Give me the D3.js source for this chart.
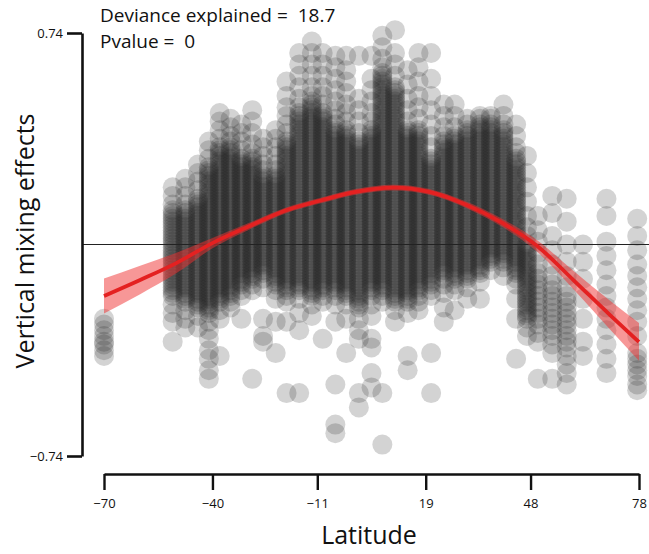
<!DOCTYPE html>
<html><head><meta charset="utf-8">
<script src="https://cdn.jsdelivr.net/npm/d3@7"></script>
<style>body{margin:0;background:#fff}svg{display:block}text{font-family:"Open Sans",sans-serif;fill:#111;white-space:pre}</style>
</head><body><svg id="chart" width="649" height="554"></svg>
<script>
// Latitude of each column of observations
const latitudes = [-70,-51,-47.5,-44,-41,-38,-35,-32,-29,-26,-22.5,-19.5,-16,-12.5,-9.5,-6,-3,0.5,4,7,10.5,14,17,20.5,24,27,30.5,34,37,40.5,44,47,50,54,58,62.5,69,77.5];
// Vertical mixing effects observed in each latitude column
const mixingEffects = [
 [-.26,-.28,-.30,-.32,-.34,-.35,-.37,-.39],
 [.20,.17,.14,.12,.11,.10,.09,.08,.07,.06,.05,.04,.03,.02,.01,0,-.01,-.02,-.03,-.04,-.05,-.06,-.07,-.08,-.09,-.10,-.11,-.12,-.13,-.14,-.15,-.16,-.17,-.18,-.21,-.24,-.27,-.34],
 [.23,.20,.17,.14,.12,.11,.10,.09,.08,.07,.06,.05,.04,.03,.02,.01,0,-.01,-.02,-.03,-.04,-.05,-.06,-.07,-.08,-.09,-.10,-.11,-.12,-.13,-.14,-.15,-.16,-.17,-.18,-.19,-.20,-.23,-.26,-.29],
 [.28,.25,.22,.19,.16,.15,.14,.13,.12,.11,.10,.09,.08,.07,.06,.05,.04,.03,.02,.01,0,-.01,-.02,-.03,-.04,-.05,-.06,-.07,-.08,-.09,-.10,-.11,-.12,-.13,-.14,-.15,-.16,-.17,-.18,-.19,-.20,-.21,-.22,-.25,-.29],
 [.36,.33,.30,.27,.26,.25,.24,.23,.22,.21,.20,.19,.18,.17,.16,.15,.14,.13,.12,.11,.10,.09,.08,.07,.06,.05,.04,.03,.02,.01,0,-.01,-.02,-.03,-.04,-.05,-.06,-.07,-.08,-.09,-.10,-.11,-.12,-.13,-.14,-.15,-.16,-.17,-.18,-.19,-.20,-.21,-.22,-.23,-.24,-.27,-.30,-.33,-.37,-.40,-.44,-.47],
 [.46,.43,.40,.37,.34,.33,.32,.31,.30,.29,.28,.27,.26,.25,.24,.23,.22,.21,.20,.19,.18,.17,.16,.15,.14,.13,.12,.11,.10,.09,.08,.07,.06,.05,.04,.03,.02,.01,0,-.01,-.02,-.03,-.04,-.05,-.06,-.07,-.08,-.09,-.10,-.11,-.12,-.13,-.14,-.15,-.16,-.17,-.18,-.19,-.20,-.23,-.26,-.39],
 [.44,.41,.38,.36,.34,.33,.32,.31,.30,.29,.28,.27,.26,.25,.24,.23,.22,.21,.20,.19,.18,.17,.16,.15,.14,.13,.12,.11,.10,.09,.08,.07,.06,.05,.04,.03,.02,.01,0,-.01,-.02,-.03,-.04,-.05,-.06,-.07,-.08,-.09,-.10,-.11,-.12,-.13,-.14,-.15,-.16,-.17,-.18,-.20,-.22],
 [.42,.39,.36,.33,.30,.29,.28,.27,.26,.25,.24,.23,.22,.21,.20,.19,.18,.17,.16,.15,.14,.13,.12,.11,.10,.09,.08,.07,.06,.05,.04,.03,.02,.01,0,-.01,-.02,-.03,-.04,-.05,-.06,-.07,-.08,-.09,-.10,-.11,-.12,-.13,-.14,-.16,-.18,-.26],
 [.47,.43,.39,.35,.32,.30,.29,.28,.27,.26,.25,.24,.23,.22,.21,.20,.19,.18,.17,.16,.15,.14,.13,.12,.11,.10,.09,.08,.07,.06,.05,.04,.03,.02,.01,0,-.01,-.02,-.03,-.04,-.05,-.06,-.07,-.08,-.09,-.10,-.11,-.12,-.14,-.16,-.47],
 [.37,.34,.31,.28,.26,.24,.23,.22,.21,.20,.19,.18,.17,.16,.15,.14,.13,.12,.11,.10,.09,.08,.07,.06,.05,.04,.03,.02,.01,0,-.01,-.02,-.03,-.04,-.05,-.06,-.07,-.08,-.09,-.10,-.12,-.15,-.26,-.32,-.34],
 [.40,.37,.34,.31,.28,.26,.24,.23,.22,.21,.20,.19,.18,.17,.16,.15,.14,.13,.12,.11,.10,.09,.08,.07,.06,.05,.04,.03,.02,.01,0,-.01,-.02,-.03,-.04,-.05,-.06,-.07,-.08,-.09,-.10,-.11,-.12,-.13,-.14,-.16,-.19,-.27,-.38],
 [.57,.52,.48,.45,.42,.39,.36,.35,.34,.33,.32,.31,.30,.29,.28,.27,.26,.25,.24,.23,.22,.21,.20,.19,.18,.17,.16,.15,.14,.13,.12,.11,.10,.09,.08,.07,.06,.05,.04,.03,.02,.01,0,-.01,-.02,-.03,-.04,-.05,-.06,-.07,-.08,-.09,-.10,-.11,-.12,-.13,-.14,-.15,-.16,-.18,-.20,-.27,-.52],
 [.67,.63,.59,.55,.51,.48,.46,.45,.44,.43,.42,.41,.40,.39,.38,.37,.36,.35,.34,.33,.32,.31,.30,.29,.28,.27,.26,.25,.24,.23,.22,.21,.20,.19,.18,.17,.16,.15,.14,.13,.12,.11,.10,.09,.08,.07,.06,.05,.04,.03,.02,.01,0,-.01,-.02,-.03,-.04,-.05,-.06,-.07,-.08,-.09,-.10,-.11,-.12,-.13,-.14,-.15,-.16,-.19,-.24,-.30,-.52],
 [.71,.67,.63,.59,.55,.52,.50,.49,.48,.47,.46,.45,.44,.43,.42,.41,.40,.39,.38,.37,.36,.35,.34,.33,.32,.31,.30,.29,.28,.27,.26,.25,.24,.23,.22,.21,.20,.19,.18,.17,.16,.15,.14,.13,.12,.11,.10,.09,.08,.07,.06,.05,.04,.03,.02,.01,0,-.01,-.02,-.03,-.04,-.05,-.06,-.07,-.08,-.09,-.10,-.11,-.12,-.13,-.14,-.15,-.16,-.17,-.18,-.21,-.25],
 [.67,.63,.59,.55,.52,.49,.46,.45,.44,.43,.42,.41,.40,.39,.38,.37,.36,.35,.34,.33,.32,.31,.30,.29,.28,.27,.26,.25,.24,.23,.22,.21,.20,.19,.18,.17,.16,.15,.14,.13,.12,.11,.10,.09,.08,.07,.06,.05,.04,.03,.02,.01,0,-.01,-.02,-.03,-.04,-.05,-.06,-.07,-.08,-.09,-.10,-.11,-.12,-.13,-.14,-.15,-.16,-.18,-.20,-.33],
 [.66,.62,.58,.54,.50,.47,.44,.42,.40,.39,.38,.37,.36,.35,.34,.33,.32,.31,.30,.29,.28,.27,.26,.25,.24,.23,.22,.21,.20,.19,.18,.17,.16,.15,.14,.13,.12,.11,.10,.09,.08,.07,.06,.05,.04,.03,.02,.01,0,-.01,-.02,-.03,-.04,-.05,-.06,-.07,-.08,-.09,-.10,-.11,-.12,-.13,-.14,-.15,-.16,-.18,-.21,-.27,-.49,-.63,-.66],
 [.66,.61,.57,.53,.49,.46,.43,.40,.39,.38,.37,.36,.35,.34,.33,.32,.31,.30,.29,.28,.27,.26,.25,.24,.23,.22,.21,.20,.19,.18,.17,.16,.15,.14,.13,.12,.11,.10,.09,.08,.07,.06,.05,.04,.03,.02,.01,0,-.01,-.02,-.03,-.04,-.05,-.06,-.07,-.08,-.09,-.10,-.11,-.12,-.13,-.14,-.15,-.16,-.17,-.18,-.21,-.26,-.38],
 [.66,.51,.47,.43,.39,.36,.35,.34,.33,.32,.31,.30,.29,.28,.27,.26,.25,.24,.23,.22,.21,.20,.19,.18,.17,.16,.15,.14,.13,.12,.11,.10,.09,.08,.07,.06,.05,.04,.03,.02,.01,0,-.01,-.02,-.03,-.04,-.05,-.06,-.07,-.08,-.09,-.10,-.11,-.12,-.13,-.14,-.15,-.16,-.17,-.18,-.19,-.20,-.21,-.22,-.26,-.30,-.33,-.52,-.57],
 [.66,.58,.54,.50,.46,.43,.40,.39,.38,.37,.36,.35,.34,.33,.32,.31,.30,.29,.28,.27,.26,.25,.24,.23,.22,.21,.20,.19,.18,.17,.16,.15,.14,.13,.12,.11,.10,.09,.08,.07,.06,.05,.04,.03,.02,.01,0,-.01,-.02,-.03,-.04,-.05,-.06,-.07,-.08,-.09,-.10,-.11,-.12,-.13,-.14,-.15,-.16,-.18,-.21,-.25,-.33,-.36,-.45,-.50],
 [.73,.69,.65,.62,.60,.59,.58,.57,.56,.55,.54,.53,.52,.51,.50,.49,.48,.47,.46,.45,.44,.43,.42,.41,.40,.39,.38,.37,.36,.35,.34,.33,.32,.31,.30,.29,.28,.27,.26,.25,.24,.23,.22,.21,.20,.19,.18,.17,.16,.15,.14,.13,.12,.11,.10,.09,.08,.07,.06,.05,.04,.03,.02,.01,0,-.01,-.02,-.03,-.04,-.05,-.06,-.07,-.08,-.09,-.10,-.11,-.12,-.13,-.14,-.15,-.16,-.18,-.20,-.52,-.70],
 [.75,.67,.63,.59,.55,.54,.53,.52,.51,.50,.49,.48,.47,.46,.45,.44,.43,.42,.41,.40,.39,.38,.37,.36,.35,.34,.33,.32,.31,.30,.29,.28,.27,.26,.25,.24,.23,.22,.21,.20,.19,.18,.17,.16,.15,.14,.13,.12,.11,.10,.09,.08,.07,.06,.05,.04,.03,.02,.01,0,-.01,-.02,-.03,-.04,-.05,-.06,-.07,-.08,-.09,-.10,-.11,-.12,-.13,-.14,-.15,-.16,-.17,-.18,-.19,-.20,-.23,-.27],
 [.61,.56,.51,.47,.43,.40,.39,.38,.37,.36,.35,.34,.33,.32,.31,.30,.29,.28,.27,.26,.25,.24,.23,.22,.21,.20,.19,.18,.17,.16,.15,.14,.13,.12,.11,.10,.09,.08,.07,.06,.05,.04,.03,.02,.01,0,-.01,-.02,-.03,-.04,-.05,-.06,-.07,-.08,-.09,-.10,-.11,-.12,-.13,-.14,-.15,-.16,-.17,-.18,-.19,-.20,-.24,-.39,-.44],
 [.67,.62,.57,.52,.48,.44,.40,.39,.38,.37,.36,.35,.34,.33,.32,.31,.30,.29,.28,.27,.26,.25,.24,.23,.22,.21,.20,.19,.18,.17,.16,.15,.14,.13,.12,.11,.10,.09,.08,.07,.06,.05,.04,.03,.02,.01,0,-.01,-.02,-.03,-.04,-.05,-.06,-.07,-.08,-.09,-.10,-.11,-.12,-.13,-.14,-.15,-.16,-.18,-.20,-.23],
 [.67,.58,.52,.47,.42,.38,.34,.30,.29,.28,.27,.26,.25,.24,.23,.22,.21,.20,.19,.18,.17,.16,.15,.14,.13,.12,.11,.10,.09,.08,.07,.06,.05,.04,.03,.02,.01,0,-.01,-.02,-.03,-.04,-.05,-.06,-.07,-.08,-.09,-.10,-.11,-.12,-.13,-.14,-.16,-.18,-.38,-.52],
 [.49,.45,.41,.38,.36,.35,.34,.33,.32,.31,.30,.29,.28,.27,.26,.25,.24,.23,.22,.21,.20,.19,.18,.17,.16,.15,.14,.13,.12,.11,.10,.09,.08,.07,.06,.05,.04,.03,.02,.01,0,-.01,-.02,-.03,-.04,-.05,-.06,-.07,-.08,-.09,-.10,-.12,-.14,-.17,-.22,-.27],
 [.49,.45,.41,.38,.37,.36,.35,.34,.33,.32,.31,.30,.29,.28,.27,.26,.25,.24,.23,.22,.21,.20,.19,.18,.17,.16,.15,.14,.13,.12,.11,.10,.09,.08,.07,.06,.05,.04,.03,.02,.01,0,-.01,-.02,-.03,-.04,-.05,-.06,-.07,-.08,-.09,-.10,-.11,-.12,-.14,-.16,-.23],
 [.44,.42,.40,.39,.38,.37,.36,.35,.34,.33,.32,.31,.30,.29,.28,.27,.26,.25,.24,.23,.22,.21,.20,.19,.18,.17,.16,.15,.14,.13,.12,.11,.10,.09,.08,.07,.06,.05,.04,.03,.02,.01,0,-.01,-.02,-.03,-.04,-.05,-.06,-.07,-.08,-.09,-.10,-.11,-.12,-.15,-.19],
 [.45,.44,.42,.41,.40,.39,.38,.37,.36,.35,.34,.33,.32,.31,.30,.29,.28,.27,.26,.25,.24,.23,.22,.21,.20,.19,.18,.17,.16,.15,.14,.13,.12,.11,.10,.09,.08,.07,.06,.05,.04,.03,.02,.01,0,-.01,-.02,-.03,-.04,-.05,-.06,-.07,-.08,-.09,-.10,-.13,-.19],
 [.45,.44,.42,.41,.40,.39,.38,.37,.36,.35,.34,.33,.32,.31,.30,.29,.28,.27,.26,.25,.24,.23,.22,.21,.20,.19,.18,.17,.16,.15,.14,.13,.12,.11,.10,.09,.08,.07,.06,.05,.04,.03,.02,.01,0,-.01,-.02,-.03,-.04,-.05,-.06,-.09],
 [.49,.45,.42,.40,.39,.38,.37,.36,.35,.34,.33,.32,.31,.30,.29,.28,.27,.26,.25,.24,.23,.22,.21,.20,.19,.18,.17,.16,.15,.14,.13,.12,.11,.10,.09,.08,.07,.06,.05,.04,.03,.02,.01,0,-.01,-.02,-.03,-.04,-.05,-.06,-.08,-.11],
 [.42,.38,.34,.32,.30,.29,.28,.27,.26,.25,.24,.23,.22,.21,.20,.19,.18,.17,.16,.15,.14,.13,.12,.11,.10,.09,.08,.07,.06,.05,.04,.03,.02,.01,0,-.01,-.02,-.03,-.04,-.05,-.06,-.07,-.08,-.09,-.10,-.12,-.14,-.19,-.26,-.40],
 [.31,.25,.20,.15,.10,.06,.03,0,-.01,-.02,-.03,-.04,-.05,-.06,-.07,-.08,-.09,-.10,-.11,-.12,-.13,-.14,-.15,-.16,-.17,-.18,-.19,-.20,-.21,-.22,-.23,-.24,-.25,-.26,-.29,-.32],
 [.10,.05,.01,-.03,-.07,-.10,-.12,-.14,-.16,-.18,-.20,-.22,-.24,-.26,-.28,-.31,-.34,-.47],
 [.17,.11,.03,-.02,-.07,-.11,-.14,-.16,-.18,-.20,-.22,-.24,-.26,-.28,-.30,-.32,-.35,-.38,-.47],
 [.16,.08,0,-.06,-.11,-.15,-.18,-.20,-.22,-.24,-.26,-.28,-.30,-.32,-.34,-.36,-.39,-.42,-.45,-.49],
 [0,-.06,-.12,-.19,-.26,-.34,-.39],
 [.16,.10,.01,-.04,-.09,-.14,-.18,-.22,-.26,-.30,-.35,-.40,-.45],
 [.09,.03,-.02,-.07,-.11,-.15,-.19,-.23,-.27,-.32,-.38,-.40,-.42,-.44,-.46,-.49,-.51]
];
// Fitted smooth and its confidence half-width
const fitLat   = [-70,-60,-50,-40,-30,-20,-10,0,10,20,30,40,50,60,70,78];
const fitValue = [-0.180,-0.124,-0.065,0.005,0.063,0.118,0.154,0.185,0.199,0.184,0.140,0.077,-0.007,-0.126,-0.247,-0.341];
const fitSE    = [0.061,0.050,0.036,0.018,0.012,0.010,0.010,0.010,0.010,0.010,0.011,0.014,0.020,0.032,0.050,0.066];
const xTicks = [-70,-40,-11,19,48,78];
const yTicks = [-0.74,0.74];
const statLines = ["Deviance explained =  18.7","Pvalue =  0"];
const xTitle = "Latitude";
const yTitle = "Vertical mixing effects";

const svg = d3.select("#chart");
const x = d3.scaleLinear().domain([-70,78]).range([104,639]);
const y = d3.scaleLinear().domain([-0.74,0.74]).range([456,33]);

const pts = [];
latitudes.forEach((lat,i)=>mixingEffects[i].forEach(v=>pts.push({lat,v})));

svg.append("g").selectAll("circle").data(pts).join("circle")
  .attr("cx",d=>x(d.lat)).attr("cy",d=>y(d.v)).attr("r",10)
  .attr("fill","#222").attr("fill-opacity",0.2);

// zero line
svg.append("line").attr("x1",82).attr("x2",649).attr("y1",y(0)).attr("y2",y(0))
  .attr("stroke","#222").attr("stroke-width",1.2);

const fit = fitLat.map((l,i)=>({l,v:fitValue[i],se:fitSE[i]}));
svg.append("path").datum(fit)
  .attr("d",d3.area().x(d=>x(d.l)).y0(d=>y(d.v-d.se)).y1(d=>y(d.v+d.se)).curve(d3.curveMonotoneX))
  .attr("fill","#f03030").attr("fill-opacity",0.5);
svg.append("path").datum(fit)
  .attr("d",d3.line().x(d=>x(d.l)).y(d=>y(d.v)).curve(d3.curveMonotoneX))
  .attr("fill","none").attr("stroke","#e42121").attr("stroke-width",3.8);

// axes
const fmtY = d3.format(".2f");
const gy = svg.append("g").attr("transform","translate(82,0)")
  .call(d3.axisLeft(y).tickValues(yTicks).tickSize(15).tickSizeOuter(0).tickFormat(fmtY).tickPadding(4));
gy.select(".domain").attr("stroke","#111").attr("stroke-width",2.6);
gy.selectAll(".tick line").attr("stroke","#111").attr("stroke-width",2.6);
gy.selectAll(".tick text").attr("font-size",13).attr("font-family","Open Sans").attr("fill","#111");

const gx = svg.append("g").attr("transform","translate(0,474)")
  .call(d3.axisBottom(x).tickValues(xTicks).tickSize(16).tickSizeOuter(0).tickFormat(d3.format("d")).tickPadding(9));
gx.select(".domain").attr("stroke","#111").attr("stroke-width",2.6);
gx.selectAll(".tick line").attr("stroke","#111").attr("stroke-width",2.4);
gx.selectAll(".tick text").attr("font-size",13).attr("font-family","Open Sans").attr("fill","#111");

svg.append("text").attr("x",369).attr("y",544).attr("text-anchor","middle")
  .attr("font-size",25).text(xTitle);
svg.append("text").attr("transform","translate(34,241) rotate(-90)").attr("text-anchor","middle")
  .attr("font-size",25).text(yTitle);
svg.selectAll(".stat").data(statLines).join("text").attr("class","stat")
  .attr("x",100).attr("y",(d,i)=>22+i*26).attr("font-size",19).text(d=>d);
</script></body></html>
